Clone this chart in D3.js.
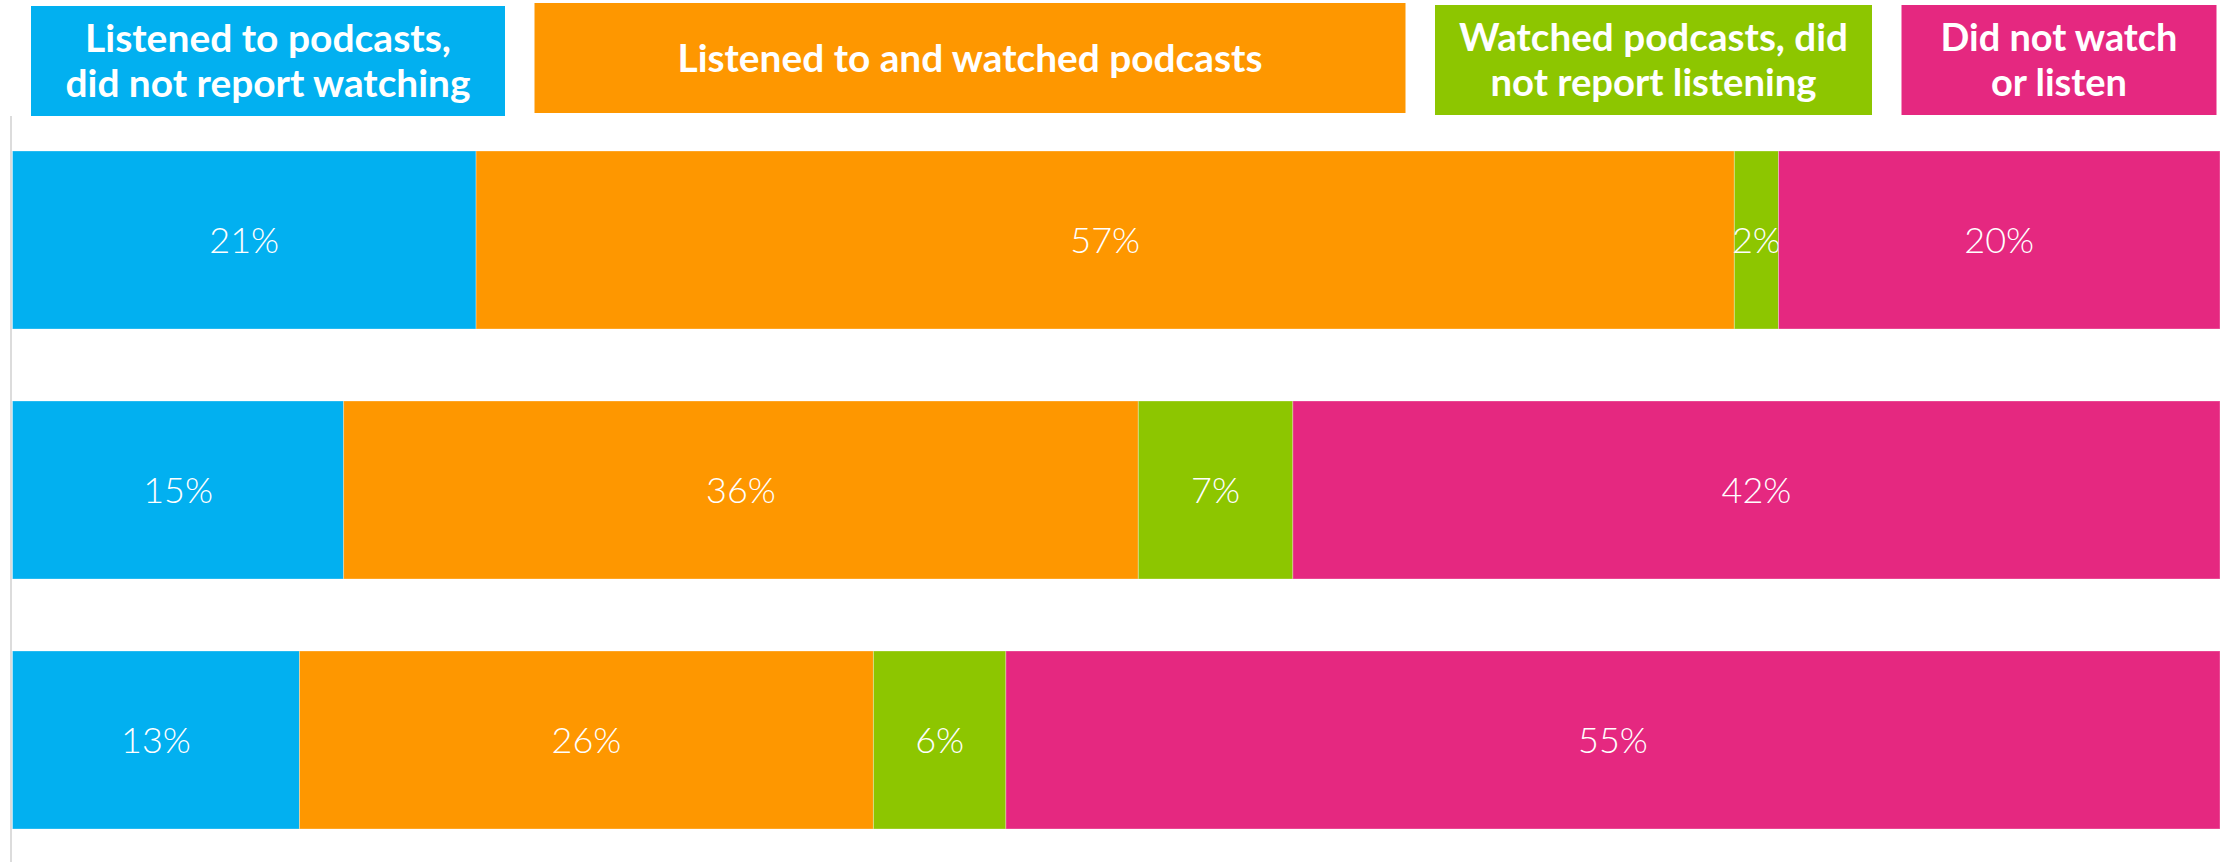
<!DOCTYPE html>
<html>
<head>
<meta charset="utf-8">
<script src="https://cdn.jsdelivr.net/npm/d3@7"></script>
<style>
    html, body { margin: 0; padding: 0; background: #fff; }
    svg { display: block; }
    .legend-text { font-family: Lato, "Open Sans", sans-serif; font-weight: 700; fill: #fff; }
    .bar-label { font-family: Lato, "Open Sans", sans-serif; font-weight: 300; fill: #fff; }
</style>
</head>
<body>
<svg id="chart"></svg>
<script>
const WIDTH = 2231;
const HEIGHT = 862;

// Data (percent of respondents)
const rows = ['row1', 'row2', 'row3'];
const categories = ['listenedOnly', 'listenedAndWatched', 'watchedOnly', 'neither'];
const legendLines = [
    ['Listened to podcasts,', 'did not report watching'],
    ['Listened to and watched podcasts'],
    ['Watched podcasts, did', 'not report listening'],
    ['Did not watch', 'or listen'],
];
const listenedOnly = [21, 15, 13];
const listenedAndWatched = [57, 36, 26];
const watchedOnly = [2, 7, 6];
const neither = [20, 42, 55];

const colors = ['#02b0f0', '#fe9700', '#8dc600', '#e52880'];

// legend layout
const legendLeft = 31;
const legendGap = 29.5;
const legendBoxWidths = [474, 871, 437, 315];
const legendTops = [6, 3, 5, 5];
const legendBoxHeight = 110;
const legendLineWidths = [[366, 405], [585], [389, 326], [237, 136]];

function makeChart() {
    let table = rows.map((r, i) => ({
        row: r,
        listenedOnly: listenedOnly[i],
        listenedAndWatched: listenedAndWatched[i],
        watchedOnly: watchedOnly[i],
        neither: neither[i],
    }));

    let series = d3.stack().keys(categories)(table);

    let svg = d3.select('#chart')
        .attr('width', WIDTH)
        .attr('height', HEIGHT);

    let x = d3.scaleLinear()
        .domain([0, 100])
        .range([12.5, 2220]);

    let y = d3.scaleBand()
        .domain(rows)
        .range([115, 865])
        .paddingInner(0.288)
        .paddingOuter(0.144);

    // vertical baseline
    let axis = svg.append('g')
        .attr('transform', 'translate(11,0)')
        .call(d3.axisLeft(y).tickSize(0).tickFormat(''));
    axis.select('.domain')
        .attr('d', `M0,116V${HEIGHT}`)
        .attr('stroke', '#dcdcdc')
        .attr('stroke-width', 2);

    let groups = svg.selectAll('.series')
        .data(series)
        .enter().append('g')
        .attr('class', 'series')
        .attr('fill', (d, i) => colors[i]);

    groups.selectAll('rect')
        .data(d => d)
        .enter().append('rect')
        .attr('x', d => x(d[0]))
        .attr('y', d => y(d.data.row))
        .attr('width', d => x(d[1]) - x(d[0]))
        .attr('height', y.bandwidth())
        .attr('stroke', '#fff')
        .attr('stroke-opacity', 0.3)
        .attr('stroke-width', 1);

    groups.selectAll('text')
        .data(d => d)
        .enter().append('text')
        .attr('class', 'bar-label')
        .attr('x', d => (x(d[0]) + x(d[1])) / 2)
        .attr('y', d => y(d.data.row) + y.bandwidth() / 2)
        .attr('dy', '0.37em')
        .attr('text-anchor', 'middle')
        .style('font-size', '36px')
        .text(d => (d[1] - d[0]) + '%');

    // legend boxes on top
    let lx = legendLeft;
    let legendX = legendBoxWidths.map(w => { let v = lx; lx += w + legendGap; return v; });

    let legend = svg.selectAll('.legend')
        .data(categories)
        .enter().append('g')
        .attr('class', 'legend')
        .attr('transform', (d, i) => `translate(${legendX[i]}, ${legendTops[i]})`);

    legend.append('rect')
        .attr('width', (d, i) => legendBoxWidths[i])
        .attr('height', legendBoxHeight)
        .attr('fill', (d, i) => colors[i]);

    legend.each(function (d, i) {
        let lines = legendLines[i];
        let lineHeight = 45;
        let g = d3.select(this);
        lines.forEach((line, j) => {
            g.append('text')
                .attr('class', 'legend-text')
                .attr('x', legendBoxWidths[i] / 2)
                .attr('y', legendBoxHeight / 2 + (j - (lines.length - 1) / 2) * lineHeight)
                .attr('dy', '0.36em')
                .attr('text-anchor', 'middle')
                .attr('textLength', legendLineWidths[i][j])
                .attr('lengthAdjust', 'spacingAndGlyphs')
                .style('font-size', '38px')
                .text(line);
        });
    });
}

makeChart();
</script>
</body>
</html>
